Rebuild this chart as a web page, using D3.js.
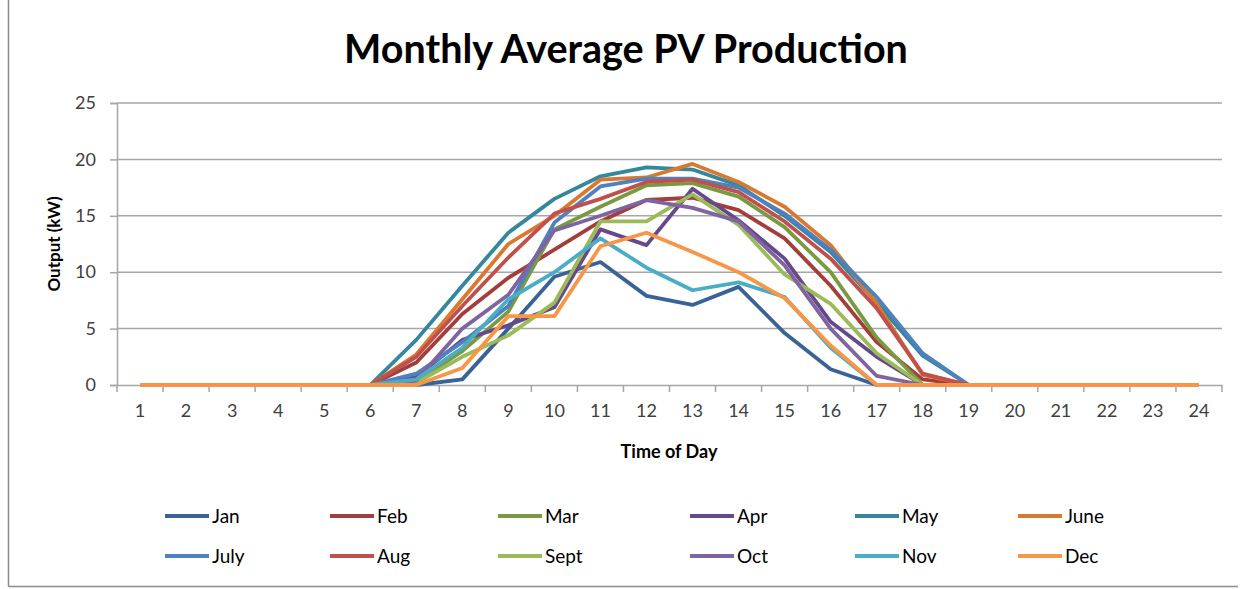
<!DOCTYPE html>
<html>
<head>
<meta charset="utf-8">
<script src="https://d3js.org/d3.v7.min.js"></script>
<style>
    body { margin: 0; background: #fff; }
    text { font-family: Lato, "Open Sans", sans-serif; }
</style>
</head>
<body>
<div id="chart"></div>
<script>
// hours of the day (x categories)
var hours = ["1","2","3","4","5","6","7","8","9","10","11","12","13","14","15","16","17","18","19","20","21","22","23","24"];

var months = ["Jan","Feb","Mar","Apr","May","June","July","Aug","Sept","Oct","Nov","Dec"];

// output (kW) per hour
var jan  = [0,0,0,0,0,0,0,  0.5, 5.0, 9.6,10.9, 7.9, 7.1, 8.7, 4.6, 1.4, 0,  0,  0,0,0,0,0,0];
var feb  = [0,0,0,0,0,0,2.0,6.3, 9.5,12.0,14.5,16.4,16.6,15.5,13.0, 8.8, 3.8,0.5,0,0,0,0,0,0];
var mar  = [0,0,0,0,0,0,0.3,3.0, 6.5,13.8,15.8,17.7,17.9,16.7,14.0,10.0, 4.2,0,  0,0,0,0,0,0];
var apr  = [0,0,0,0,0,0,0.7,4.0, 5.3, 6.9,13.8,12.4,17.4,14.6,11.2, 5.6, 2.5,0,  0,0,0,0,0,0];
var may  = [0,0,0,0,0,0,4.0,8.8,13.5,16.5,18.5,19.3,19.1,17.7,15.0,11.8, 7.3,2.6,0,0,0,0,0,0];
var june = [0,0,0,0,0,0,2.7,7.6,12.5,15.0,18.2,18.4,19.6,18.0,15.8,12.4, 7.2,0.9,0,0,0,0,0,0];
var july = [0,0,0,0,0,0,1.0,3.8, 7.0,14.4,17.6,18.3,18.3,17.5,15.2,12.0, 7.8,2.8,0,0,0,0,0,0];
var aug  = [0,0,0,0,0,0,2.5,7.0,11.3,15.2,16.5,18.0,18.2,17.1,14.5,11.2, 6.8,1.0,0,0,0,0,0,0];
var sept = [0,0,0,0,0,0,0.2,2.5, 4.4, 7.3,14.5,14.5,16.9,14.2, 9.8, 7.2, 2.8,0,  0,0,0,0,0,0];
var oct  = [0,0,0,0,0,0,0.4,5.0, 8.0,13.7,15.0,16.4,15.7,14.5,10.6, 5.0, 0.8,0,  0,0,0,0,0,0];
var nov  = [0,0,0,0,0,0,0.5,3.3, 7.6,10.0,13.0,10.4, 8.4, 9.1, 7.8, 3.3, 0,  0,  0,0,0,0,0,0];
var dec  = [0,0,0,0,0,0,0,  1.5, 6.1, 6.1,12.3,13.5,11.8,10.0, 7.7, 3.5, 0,  0,  0,0,0,0,0,0];

var yTicks = [0, 5, 10, 15, 20, 25];

var colors = ["#3a6296","#a23e3b","#7a9a41","#66498a","#35879e","#d8792f",
              "#4f81bd","#c0504d","#9bbb59","#8064a2","#4bacc6","#f79646"];

var series = [jan, feb, mar, apr, may, june, july, aug, sept, oct, nov, dec].map(function(vals, i) {
    return {name: months[i], color: colors[i], values: vals};
});

var width = 1242, height = 589;
var plot = {left: 117, right: 1222, top: 103, bottom: 385};

var svg = d3.select("#chart").append("svg")
    .attr("width", width)
    .attr("height", height);

// chart frame
svg.append("line").attr("x1", 8.5).attr("x2", 8.5).attr("y1", 0).attr("y2", 586.5)
    .attr("stroke", "#8c8c8c").attr("stroke-width", 1.5);
svg.append("line").attr("x1", 8.5).attr("x2", 1238).attr("y1", 586.5).attr("y2", 586.5)
    .attr("stroke", "#8c8c8c").attr("stroke-width", 1.5);

// scales
var x = d3.scaleBand()
    .domain(hours)
    .range([plot.left, plot.right]);

var y = d3.scaleLinear()
    .domain([0, 25])
    .range([plot.bottom, plot.top]);

// gridlines
svg.selectAll("line.grid")
    .data(yTicks.slice(1))
    .enter().append("line")
    .attr("class", "grid")
    .attr("x1", plot.left).attr("x2", plot.right)
    .attr("y1", function(d) { return y(d); })
    .attr("y2", function(d) { return y(d); })
    .attr("stroke", "#a6a6a6")
    .attr("stroke-width", 1.5);

// y axis
var yAxis = svg.append("g")
    .attr("transform", "translate(" + plot.left + ",0)")
    .call(d3.axisLeft(y).tickValues(yTicks).tickSize(7).tickPadding(14));
yAxis.select(".domain").attr("stroke", "#a6a6a6").attr("stroke-width", 1.5);
yAxis.selectAll(".tick line").attr("stroke", "#a6a6a6").attr("stroke-width", 1.5);
yAxis.selectAll("text").attr("font-size", 18).attr("fill", "#404040");

// x axis - labels centred in bands, tick marks on the band edges
var xAxis = svg.append("g")
    .attr("transform", "translate(0," + plot.bottom + ")")
    .call(d3.axisBottom(x).tickSize(0).tickPadding(19));
xAxis.select(".domain").attr("stroke", "#a6a6a6").attr("stroke-width", 1.5);
xAxis.selectAll("text").attr("font-size", 18).attr("fill", "#404040");

var edges = hours.map(function(h) { return x(h); }).concat([x(hours[hours.length - 1]) + x.bandwidth()]);
svg.selectAll("line.xtick")
    .data(edges)
    .enter().append("line")
    .attr("class", "xtick")
    .attr("x1", function(d) { return d; }).attr("x2", function(d) { return d; })
    .attr("y1", plot.bottom).attr("y2", plot.bottom + 7)
    .attr("stroke", "#a6a6a6")
    .attr("stroke-width", 1.5);

// lines
var line = d3.line()
    .x(function(d, i) { return x(hours[i]) + x.bandwidth() / 2; })
    .y(function(d) { return y(d); });

svg.selectAll("path.series")
    .data(series)
    .enter().append("path")
    .attr("class", "series")
    .attr("d", function(d) { return line(d.values); })
    .attr("fill", "none")
    .attr("stroke", function(d) { return d.color; })
    .attr("stroke-width", 3.8)
    .attr("stroke-linejoin", "round");

// titles
svg.append("text")
    .attr("x", 626).attr("y", 63)
    .attr("text-anchor", "middle")
    .attr("font-size", 39.5)
    .attr("font-weight", "bold")
    .attr("fill", "#000")
    .text("Monthly Average PV Production");

svg.append("text")
    .attr("x", 669).attr("y", 458)
    .attr("text-anchor", "middle")
    .attr("font-size", 18)
    .attr("font-weight", "bold")
    .attr("fill", "#000")
    .text("Time of Day");

svg.append("text")
    .attr("transform", "translate(60,244) rotate(-90)")
    .attr("text-anchor", "middle")
    .attr("font-size", 17)
    .attr("font-weight", "bold")
    .attr("fill", "#000")
    .text("Output (kW)");

// legend, 2 rows x 6 columns
var legendX = [165, 330, 498, 690, 855, 1018];
var legendY = [516, 556];

var legend = svg.selectAll("g.legend")
    .data(series)
    .enter().append("g")
    .attr("class", "legend")
    .attr("transform", function(d, i) {
        return "translate(" + legendX[i % 6] + "," + legendY[Math.floor(i / 6)] + ")";
    });

legend.append("line")
    .attr("x1", 0).attr("x2", 44)
    .attr("y1", 0).attr("y2", 0)
    .attr("stroke", function(d) { return d.color; })
    .attr("stroke-width", 4);

legend.append("text")
    .attr("x", 47).attr("y", 0)
    .attr("dy", "0.35em")
    .attr("font-size", 19)
    .attr("fill", "#000")
    .text(function(d) { return d.name; });
</script>
</body>
</html>
